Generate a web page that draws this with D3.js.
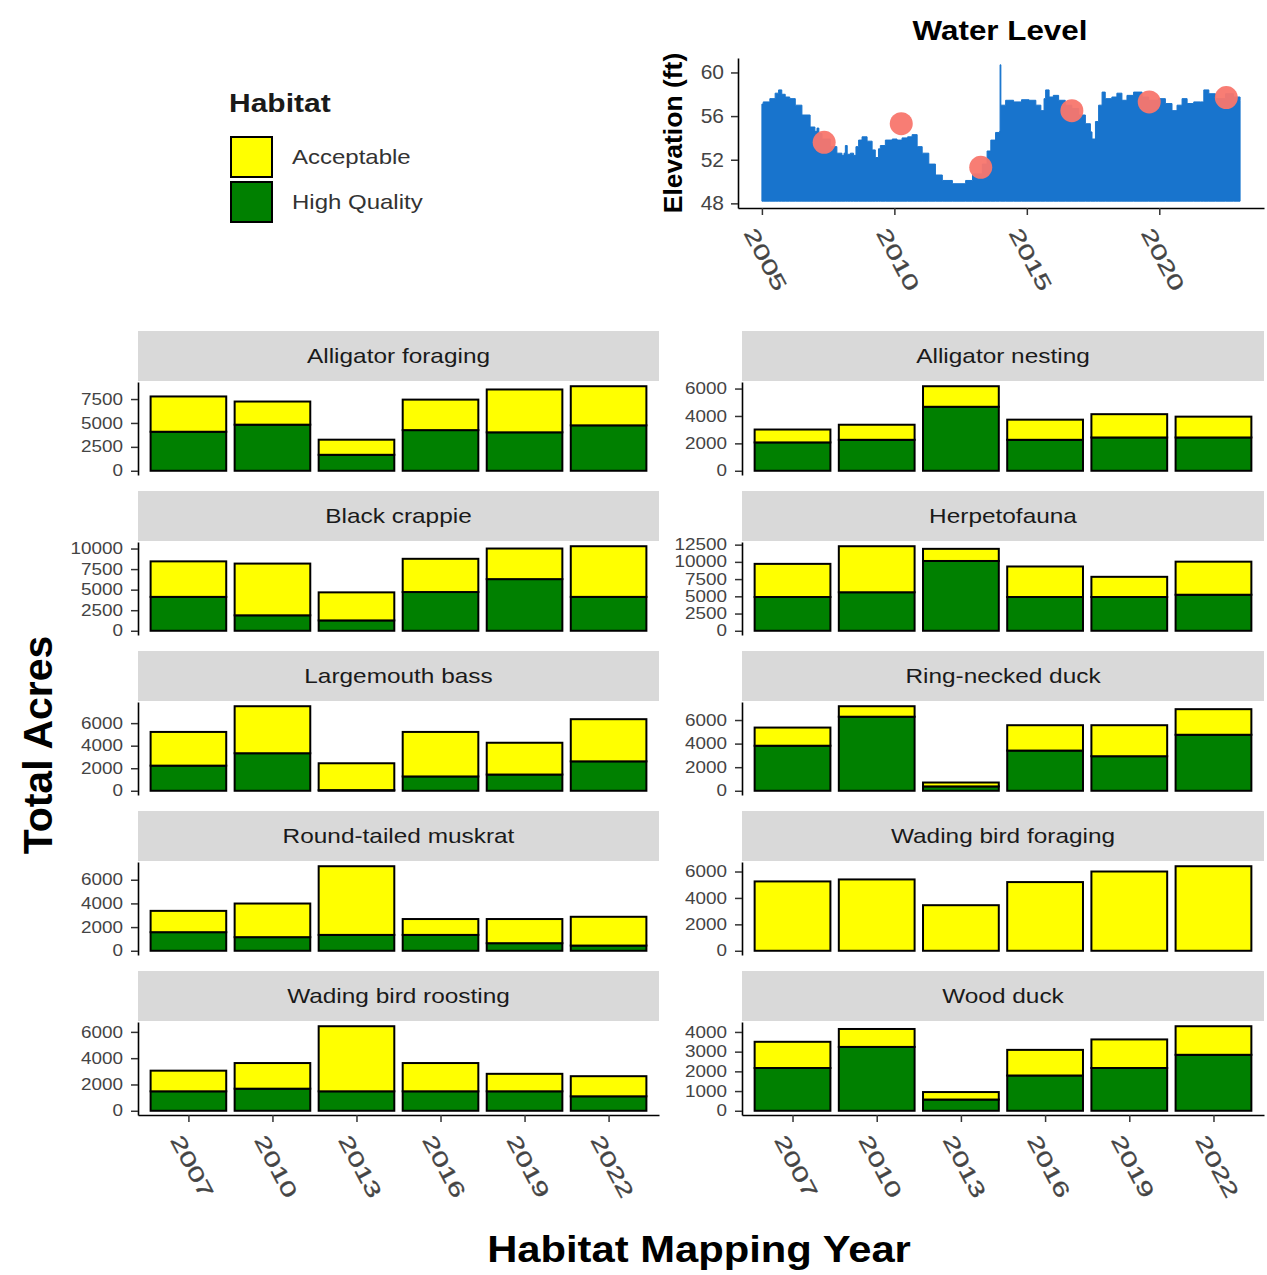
<!DOCTYPE html>
<html>
<head>
<meta charset="utf-8">
<script src="https://cdn.jsdelivr.net/npm/d3@7/dist/d3.min.js"></script>
<style>
  body { margin: 0; background: #fff; }
  svg { display: block; font-family: "Liberation Sans", Arial, sans-serif; }
</style>
</head>
<body>
<div id="chart"></div>
<script>
// ---- data ----
const years = ['2007', '2010', '2013', '2016', '2019', '2022'];
const habitats = ['Acceptable', 'High Quality'];
const panelNames = [
  'Alligator foraging', 'Alligator nesting',
  'Black crappie', 'Herpetofauna',
  'Largemouth bass', 'Ring-necked duck',
  'Round-tailed muskrat', 'Wading bird foraging',
  'Wading bird roosting', 'Wood duck',
];
const highQuality = [
  [4080, 4820, 1670, 4250, 4020, 4750],
  [2070, 2260, 4670, 2260, 2430, 2430],
  [4120, 1880, 1260, 4710, 6280, 4120],
  [4900, 5590, 10130, 4900, 4900, 5230],
  [2230, 3330, 60, 1270, 1440, 2610],
  [3820, 6280, 370, 3410, 2930, 4750],
  [1570, 1150, 1340, 1340, 640, 440],
  [0, 0, 0, 0, 0, 0],
  [1480, 1680, 1480, 1480, 1480, 1100],
  [2170, 3240, 570, 1790, 2170, 2840],
];
const acceptable = [
  [3690, 2420, 1580, 3190, 4480, 4090],
  [940, 1100, 1500, 1470, 1700, 1520],
  [4320, 6290, 3410, 4040, 3720, 6160],
  [4810, 6680, 1760, 4430, 2930, 4800],
  [2990, 4170, 2380, 3950, 2820, 3740],
  [1540, 890, 330, 2150, 2630, 2170],
  [1800, 2840, 5800, 1340, 2040, 2430],
  [5250, 5400, 3450, 5200, 6000, 6400],
  [1570, 1950, 4950, 2150, 1330, 1530],
  [1330, 910, 380, 1300, 1450, 1450],
];
const yTicks = [
  [0, 2500, 5000, 7500],
  [0, 2000, 4000, 6000],
  [0, 2500, 5000, 7500, 10000],
  [0, 2500, 5000, 7500, 10000, 12500],
  [0, 2000, 4000, 6000],
  [0, 2000, 4000, 6000],
  [0, 2000, 4000, 6000],
  [0, 2000, 4000, 6000],
  [0, 2000, 4000, 6000],
  [0, 1000, 2000, 3000, 4000],
];

// water level (decimal year, elevation ft)
const wlYear = [
  2005.00, 2005.05, 2005.30, 2005.50, 2005.63, 2005.75, 2005.88, 2006.05, 2006.26, 2006.51,
  2006.82, 2007.00, 2007.08, 2007.15, 2007.27, 2007.58, 2007.83, 2008.02, 2008.10, 2008.15,
  2008.22, 2008.34, 2008.46, 2008.55, 2008.65, 2008.78, 2008.97, 2009.16, 2009.28, 2009.40,
  2009.47, 2009.66, 2009.92, 2010.10, 2010.29, 2010.50, 2010.67, 2010.86, 2011.05, 2011.30,
  2011.55, 2011.81, 2012.19, 2012.44, 2012.69, 2012.95, 2013.32, 2013.50, 2013.64, 2013.82,
  2013.97, 2013.99, 2014.02, 2014.20, 2014.50, 2014.80, 2015.08, 2015.34, 2015.53, 2015.65,
  2015.71, 2015.84, 2016.00, 2016.20, 2016.45, 2016.70, 2016.96, 2017.21, 2017.40, 2017.46,
  2017.59, 2017.71, 2017.84, 2017.96, 2018.21, 2018.40, 2018.59, 2018.78, 2019.03, 2019.35,
  2019.60, 2019.98, 2020.23, 2020.48, 2020.67, 2020.86, 2021.05, 2021.30, 2021.55, 2021.68,
  2021.87, 2022.12, 2022.50, 2022.80, 2023.05,
];
const wlElev = [
  57.1, 57.3, 57.6, 58.1, 58.4, 58.0, 57.75, 57.6, 57.0, 56.1,
  55.0, 54.6, 54.9, 54.4, 53.9, 53.2, 52.6, 52.4, 52.6, 53.3,
  52.5, 52.6, 52.4, 53.2, 53.8, 54.1, 53.7, 52.9, 52.2, 53.0,
  53.3, 53.8, 53.9, 53.8, 54.0, 54.1, 54.3, 53.2, 52.6, 51.6,
  50.6, 50.1, 49.8, 49.8, 50.1, 50.7, 51.6, 52.8, 53.8, 54.5,
  54.6, 60.7, 57.0, 57.45, 57.3, 57.5, 57.45, 57.0, 56.5, 57.6,
  58.4, 57.75, 57.9, 57.45, 57.0, 56.7, 56.1, 55.3, 54.55, 53.9,
  55.5, 57.0, 58.2, 57.6, 57.75, 58.1, 57.45, 57.9, 58.2, 57.75,
  57.45, 57.6, 57.15, 56.5, 57.0, 57.6, 57.15, 57.3, 57.3, 58.4,
  58.05, 57.6, 58.05, 57.75, 57.45,
];
const wlBase = 48.2;
const mapYear = [2007.35, 2010.26, 2013.26, 2016.7, 2019.62, 2022.53];
const mapElev = [53.6, 55.3, 51.3, 56.5, 57.3, 57.7];
const wlTicksX = [2005, 2010, 2015, 2020];
const wlTicksY = [48, 52, 56, 60];

const fills = { 'Acceptable': '#FFFF00', 'High Quality': '#008000' };

// ---- drawing ----
const svg = d3.select('#chart').append('svg')
  .attr('width', 1267)
  .attr('height', 1275);

function txt(parent, s, x, y, o = {}) {
  return parent.append('text')
    .attr('transform', `translate(${x},${y}) rotate(${o.rotate || 0}) scale(${o.sx || 1},1)`)
    .attr('text-anchor', o.anchor || 'start')
    .attr('font-size', o.size || 16)
    .attr('font-weight', o.weight || 'normal')
    .attr('fill', o.fill || '#000')
    .text(s);
}

function styleAxis(g) {
  g.select('.domain').attr('stroke', '#000').attr('stroke-width', 1.6);
  g.selectAll('.tick line').attr('stroke', '#333').attr('stroke-width', 1.5);
}

function rotatedTicks(g) {
  g.selectAll('.tick text')
    .attr('x', 0).attr('y', 0).attr('dy', '0.71em')
    .attr('text-anchor', 'start')
    .attr('font-size', 21)
    .attr('fill', '#444')
    .attr('stroke', '#444').attr('stroke-width', 0.3)
    .attr('transform', 'translate(-6,18) rotate(62) scale(1.45,1)');
}

// Facets
const cols = [[138, 659], [742, 1264]];
panelNames.forEach((name, i) => {
  const col = i % 2, row = Math.floor(i / 2);
  const [x0, x1] = cols[col];
  const stripTop = 331 + row * 160;
  const pTop = stripTop + 51, pBot = stripTop + 144;
  const g = svg.append('g');

  g.append('rect')
    .attr('x', x0).attr('y', stripTop)
    .attr('width', x1 - x0).attr('height', 50)
    .attr('fill', '#d9d9d9');
  txt(g, name, (x0 + x1) / 2, stripTop + 32, { size: 20, sx: 1.22, anchor: 'middle', fill: '#1a1a1a' });

  const totals = years.map((_, j) => highQuality[i][j] + acceptable[i][j]);
  const maxT = d3.max(totals);
  const y = d3.scaleLinear().domain([-0.05 * maxT, 1.05 * maxT]).range([pBot, pTop]);
  const x = d3.scalePoint().domain(years).range([x0, x1]).padding(0.6);
  const bw = x.step() * 0.9;

  years.forEach((yr, j) => {
    const hq = highQuality[i][j], ac = acceptable[i][j];
    if (hq > 0) {
      g.append('rect')
        .attr('x', x(yr) - bw / 2).attr('y', y(hq))
        .attr('width', bw).attr('height', y(0) - y(hq))
        .attr('fill', fills['High Quality']).attr('stroke', '#000').attr('stroke-width', 2);
    }
    g.append('rect')
      .attr('x', x(yr) - bw / 2).attr('y', y(hq + ac))
      .attr('width', bw).attr('height', y(hq) - y(hq + ac))
      .attr('fill', fills['Acceptable']).attr('stroke', '#000').attr('stroke-width', 2);
  });

  const ya = g.append('g')
    .attr('transform', `translate(${x0},0)`)
    .call(d3.axisLeft(y).tickValues(yTicks[i]).tickFormat(d3.format('d')).tickSize(7).tickSizeOuter(0));
  styleAxis(ya);
  ya.selectAll('.tick text')
    .attr('x', 0)
    .attr('font-size', 16)
    .attr('fill', '#444')
    .attr('transform', 'translate(-15,0) scale(1.18,1)');

  if (row === 4) {
    const xa = g.append('g')
      .attr('transform', `translate(0,${pBot})`)
      .call(d3.axisBottom(x).tickSize(7).tickSizeOuter(0));
    styleAxis(xa);
    rotatedTicks(xa);
  }
});

// Water level inset
const wl = svg.append('g');
const wlData = wlYear.map((t, k) => ({ t, v: wlElev[k] }));
const tMin = d3.min(wlYear), tMax = d3.max(wlYear);
const vMax = d3.max(wlElev);
const wx = d3.scaleLinear()
  .domain([tMin - 0.05 * (tMax - tMin), tMax + 0.05 * (tMax - tMin)])
  .range([738, 1264]);
const wy = d3.scaleLinear()
  .domain([wlBase - 0.05 * (vMax - wlBase), vMax + 0.05 * (vMax - wlBase)])
  .range([208, 58]);

wl.append('path')
  .datum(wlData)
  .attr('fill', '#1874CD')
  .attr('stroke', '#1874CD')
  .attr('stroke-width', 1)
  .attr('d', d3.area()
    .x(d => wx(d.t))
    .y0(wy(wlBase))
    .y1(d => wy(d.v))
    .curve(d3.curveStepAfter));

wl.selectAll('circle').data(mapYear).join('circle')
  .attr('cx', d => wx(d))
  .attr('cy', (d, k) => wy(mapElev[k]))
  .attr('r', 11.5)
  .attr('fill', '#F8766D')
  .attr('opacity', 0.95);

const wya = wl.append('g')
  .attr('transform', 'translate(738,0)')
  .call(d3.axisLeft(wy).tickValues(wlTicksY).tickSize(7).tickSizeOuter(0));
styleAxis(wya);
wya.selectAll('.tick text')
  .attr('x', 0)
  .attr('font-size', 20)
  .attr('fill', '#444')
  .attr('transform', 'translate(-14,0) scale(1.05,1)');

const wxa = wl.append('g')
  .attr('transform', 'translate(0,208)')
  .call(d3.axisBottom(wx).tickValues(wlTicksX).tickFormat(d3.format('d')).tickSize(7).tickSizeOuter(0));
styleAxis(wxa);
rotatedTicks(wxa);

txt(wl, 'Water Level', 1000, 40, { size: 28, weight: 'bold', sx: 1.12, anchor: 'middle' });
txt(wl, 'Elevation (ft)', 682, 133, { size: 25, weight: 'bold', rotate: -90, sx: 1.06, anchor: 'middle' });

// Legend
const lg = svg.append('g');
txt(lg, 'Habitat', 229, 112, { size: 25, weight: 'bold', sx: 1.2, fill: '#1a1a1a' });
habitats.forEach((h, k) => {
  const top = 137 + k * 45;
  lg.append('rect')
    .attr('x', 231).attr('y', top)
    .attr('width', 41).attr('height', 40)
    .attr('fill', fills[h]).attr('stroke', '#000').attr('stroke-width', 2);
  txt(lg, h, 292, top + 27, { size: 20, sx: 1.2, fill: '#333' });
});

// Axis titles
txt(svg, 'Total Acres', 52, 745, { size: 41, weight: 'bold', rotate: -90, anchor: 'middle' });
txt(svg, 'Habitat Mapping Year', 699, 1262, { size: 36, weight: 'bold', sx: 1.16, anchor: 'middle' });
</script>
</body>
</html>
